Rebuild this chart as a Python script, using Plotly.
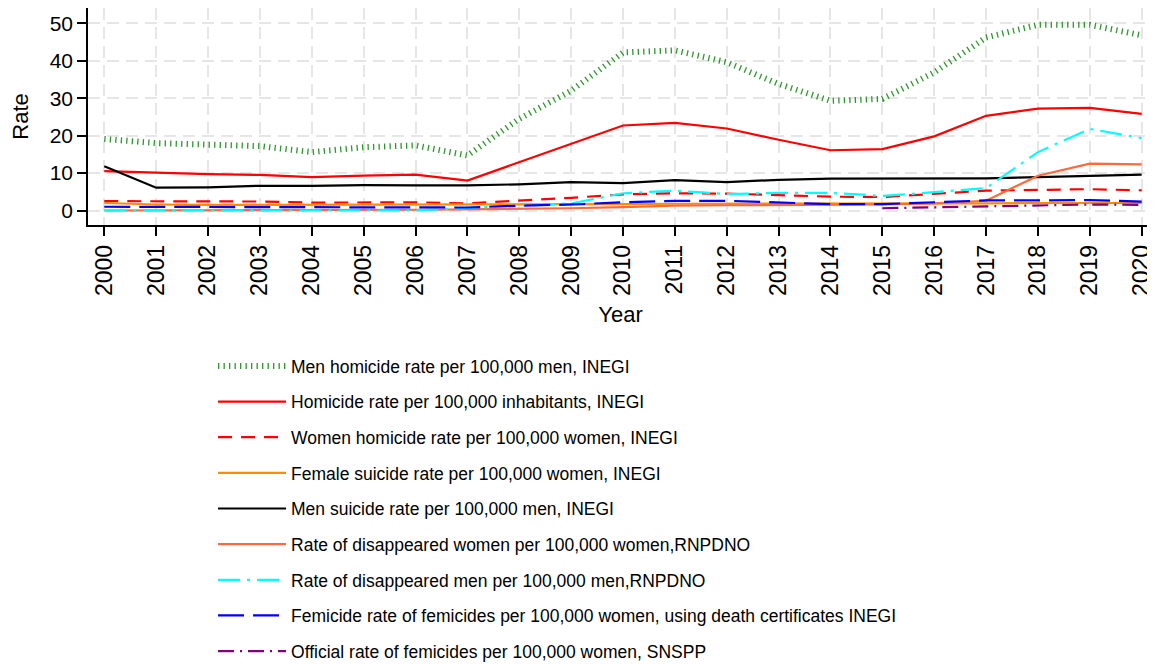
import plotly.graph_objects as go

years = list(range(2000, 2021))

men_homicide = [19.1, 18.0, 17.6, 17.2, 15.6, 16.9, 17.4, 14.7, 24.5, 32.0, 42.2,
                42.8, 39.6, 33.8, 29.3, 29.8, 36.9, 46.2, 49.6, 49.6, 46.8]
homicide = [10.5, 10.0, 9.7, 9.5, 8.9, 9.3, 9.6, 8.0, 12.9, 17.6, 22.7,
            23.4, 21.9, 18.9, 16.1, 16.4, 19.8, 25.3, 27.2, 27.4, 25.8]
women_homicide = [2.5, 2.5, 2.4, 2.4, 2.1, 2.2, 2.2, 1.9, 2.6, 3.4, 4.3,
                  4.6, 4.5, 4.2, 3.7, 3.6, 4.4, 5.3, 5.5, 5.7, 5.4]
female_suicide = [2.0, 1.6, 1.5, 1.5, 1.5, 1.5, 1.5, 1.5, 1.6, 1.7, 1.7,
                  1.8, 1.8, 1.7, 1.7, 1.8, 1.9, 1.9, 2.0, 2.0, 2.0]
men_suicide = [11.8, 6.1, 6.2, 6.6, 6.6, 6.8, 6.7, 6.7, 7.0, 7.6, 7.3,
               8.1, 7.6, 8.2, 8.5, 8.5, 8.5, 8.6, 8.9, 9.3, 9.6]
disappeared_women = [0.0, 0.0, 0.0, 0.05, 0.1, 0.1, 0.2, 0.3, 0.4, 0.6, 0.9,
                     1.3, 1.4, 1.4, 1.5, 1.6, 1.9, 2.6, 9.3, 12.5, 12.3]
disappeared_men = [0.0, 0.0, 0.0, 0.0, 0.0, 0.0, 0.0, 0.7, 1.4, 1.9, 4.6,
                   5.3, 4.4, 4.7, 4.7, 3.9, 4.9, 6.0, 15.6, 21.8, 19.3]
femicide_cert = [1.0, 1.0, 1.0, 1.0, 0.8, 0.9, 0.9, 0.8, 1.3, 1.6, 2.2,
                 2.6, 2.6, 2.1, 1.7, 1.7, 2.2, 2.7, 2.7, 2.8, 2.4]
femicide_snspp = [None] * 15 + [0.6, 0.9, 1.2, 1.4, 1.6, 1.5]

series = [
    ("Men homicide rate per 100,000 men, INEGI", men_homicide, "#2D962D", "1.3px,4.2px", 6),
    ("Homicide rate per 100,000 inhabitants, INEGI", homicide, "#FF0000", "solid", 2.2),
    ("Women homicide rate per 100,000 women, INEGI", women_homicide, "#FF0000", "14px,9px", 2.2),
    ("Female suicide rate per 100,000 women, INEGI", female_suicide, "#FF8C00", "solid", 2.2),
    ("Men suicide rate per 100,000 men, INEGI", men_suicide, "#000000", "solid", 2.2),
    ("Rate of disappeared women per 100,000 women,RNPDNO", disappeared_women, "#FF6A3D", "solid", 2.2),
    ("Rate of disappeared men per 100,000 men,RNPDNO", disappeared_men, "#00FFFF", "22px,7px,3px,7px", 2.2),
    ("Femicide rate of femicides per 100,000 women, using death certificates INEGI", femicide_cert, "#0000FF", "26px,9px", 2.2),
    ("Official rate of femicides per 100,000 women, SNSPP", femicide_snspp, "#800080", "16px,6px,2px,6px", 2.2),
]

FONT = "Liberation Sans, Arial, sans-serif"

fig = go.Figure()
for i, (name, vals, color, dash, w) in enumerate(series):
    fig.add_trace(go.Scatter(
        x=years, y=vals, name=name, mode="lines",
        line=dict(color=color, dash=dash, width=w),
        legendgroup=f"g{i}", connectgaps=False,
    ))

fig.update_layout(
    width=1147, height=656,
    margin=dict(l=80, r=2, t=0, b=439, autoexpand=False),
    paper_bgcolor="white", plot_bgcolor="white",
    font=dict(family=FONT, size=21, color="black"),
    showlegend=True,
    legend=dict(
        x=0.1174, xanchor="left", y=-0.567, yanchor="top",
        font=dict(family=FONT, size=17.5, color="black"),
        traceorder="grouped", tracegroupgap=9.9,
        itemwidth=68,
        bgcolor="rgba(0,0,0,0)", maxheight=420,
    ),
)

fig.update_xaxes(
    range=[1999.686, 2020.218],
    tickmode="array", tickvals=years, ticktext=[str(y) for y in years],
    tickangle=-90,
    tickfont=dict(family=FONT, size=23),
    ticks="outside", ticklen=9, tickwidth=1.5, tickcolor="black",
    showline=True, linecolor="black", linewidth=1.5,
    showgrid=True, gridcolor="#E6E6E6", gridwidth=1.5, griddash="12px,7px",
    zeroline=False, automargin=False,
    title=dict(text="Year", font=dict(family=FONT, size=22), standoff=11),
)
fig.update_yaxes(
    range=[-3.87, 54.09],
    tickmode="array", tickvals=[0, 10, 20, 30, 40, 50],
    tickfont=dict(family=FONT, size=21),
    ticks="outside", ticklen=9, tickwidth=1.5, tickcolor="black",
    showline=True, linecolor="black", linewidth=1.5,
    showgrid=True, gridcolor="#E6E6E6", gridwidth=1.5, griddash="12px,7px",
    zeroline=False, automargin=False,
    title=dict(text="Rate", font=dict(family=FONT, size=22), standoff=16),
)

fig.write_html("out.html")
